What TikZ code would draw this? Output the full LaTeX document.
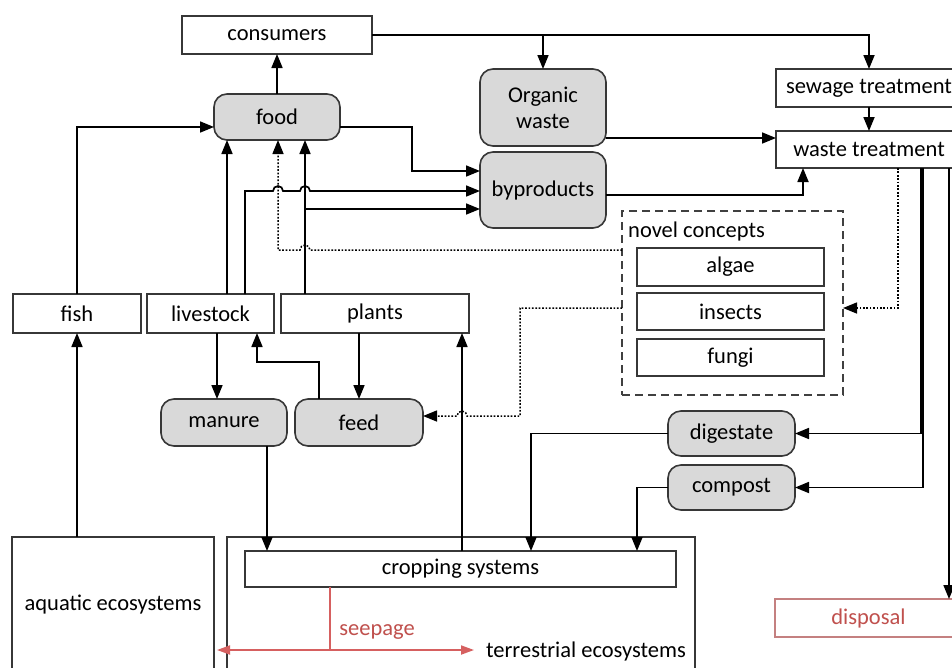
\documentclass[tikz,border=0pt]{standalone}
\usepackage{fontspec}
\setmainfont{Carlito}
\usetikzlibrary{arrows.meta,calc}
\definecolor{gfill}{RGB}{217,217,217}
\definecolor{bord}{RGB}{55,55,55}
\definecolor{redtxt}{RGB}{192,80,77}
\definecolor{redline}{RGB}{214,96,96}
\definecolor{redbord}{RGB}{196,128,128}
\begin{document}
\begin{tikzpicture}[x=1pt,y=-1pt,
  box/.style={draw=bord,line width=1.6pt,fill=white,inner sep=0pt,outer sep=0pt,
    font=\fontsize{22.5}{25}\selectfont,text=black},
  gbox/.style={box,fill=gfill,rounded corners=13pt},
  conn/.style={draw=black,line width=1.7pt,-{Triangle[length=14pt,width=11pt]}},
  dotconn/.style={conn,line width=1.5pt,dash pattern=on 1.7pt off 1.7pt},
  lbl/.style={inner sep=0pt,font=\fontsize{22.5}{25}\selectfont,text=black}]
\clip (0,0) rectangle (952,667);
\fill[white] (0,0) rectangle (952,667);

% helper coordinates
\coordinate (y127) at (0,127);
\coordinate (y138) at (0,138);
\coordinate (y171) at (0,171);
\coordinate (y191) at (0,191);
\coordinate (y195) at (0,195);
\coordinate (y209) at (0,209);
\coordinate (y250) at (0,250);
\coordinate (y308) at (0,308);
\coordinate (y362) at (0,362);
\coordinate (y416) at (0,416);
\coordinate (y650) at (0,650);
\coordinate (x217) at (217,0);
\coordinate (x227) at (227,0);
\coordinate (x245) at (245,0);
\coordinate (x257) at (257,0);
\coordinate (x267) at (267,0);
\coordinate (x278) at (278,0);
\coordinate (x305) at (305,0);
\coordinate (x319) at (319,0);
\coordinate (x330) at (330,0);
\coordinate (x462) at (462,0);
\coordinate (x531) at (531,0);
\coordinate (x637) at (637,0);
\coordinate (x803) at (803,0);
\coordinate (x898) at (898,0);
\coordinate (x921) at (921,0);
\coordinate (x923) at (923,0);
\coordinate (x949) at (949,0);

% large ecosystem boxes
\node[box,minimum width=202pt,minimum height=170pt,anchor=north west] (aquatic) at (12,537) {};
\node[lbl] at (113,605) {aquatic ecosystems};
\node[box,minimum width=468pt,minimum height=170pt,anchor=north west] (terr) at (227,537) {};

% nodes
\node[box,minimum width=190pt,minimum height=38pt] (consumers) at (277,35) {consumers};
\node[gbox,minimum width=126pt,minimum height=46pt] (food) at (277,117) {food};
\node[gbox,minimum width=126pt,minimum height=77pt,align=center] (organic) at (543,107.5) {Organic\\[1pt]waste};
\node[gbox,minimum width=126pt,minimum height=76pt] (byp) at (543,190) {byproducts};
\node[box,minimum width=186pt,minimum height=38pt] (sewage) at (869,88) {sewage treatment};
\node[box,minimum width=186pt,minimum height=37pt] (waste) at (869,149.5) {waste treatment};
\node[box,minimum width=128pt,minimum height=39pt] (fish) at (77,313.5) {fish};
\node[box,minimum width=127pt,minimum height=39pt] (livestock) at (210.5,313.5) {livestock};
\node[box,minimum width=188pt,minimum height=39pt] (plants) at (375,313.5) {plants};
\node[box,draw=black!75,dash pattern=on 8pt off 5pt,line width=1.5pt,fill=none,
  minimum width=221pt,minimum height=184pt] (novel) at (732.5,303) {};
\node[lbl,anchor=west] (novellbl) at (628,231) {novel concepts};
\node[box,minimum width=187pt,minimum height=38pt] (algae) at (730.5,267) {algae};
\node[box,minimum width=187pt,minimum height=37pt] (insects) at (730.5,311.5) {insects};
\node[box,minimum width=187pt,minimum height=37pt] (fungi) at (730.5,357.5) {fungi};
\node[gbox,minimum width=126pt,minimum height=47pt] (manure) at (224,422.5) {manure};
\node[gbox,minimum width=128pt,minimum height=47pt] (feed) at (359,422.5) {feed};
\node[gbox,minimum width=127pt,minimum height=45pt] (digestate) at (731.5,433.5) {digestate};
\node[gbox,minimum width=127pt,minimum height=45pt] (compost) at (731.5,487.5) {compost};
\node[box,minimum width=431pt,minimum height=36pt] (crop) at (460.5,569) {cropping systems};
\node[box,draw=redbord,line width=1.2pt,text=redtxt,minimum width=187pt,minimum height=38pt] (disposal) at (868.5,618) {disposal};
\node[lbl,text=redtxt] (seepage) at (377,632) {seepage};
\node[lbl] (terrlbl) at (586,651) {terrestrial ecosystems};

% connectors
\draw[conn] (food.north) -- (consumers.south);
\draw[conn] (consumers.east) -| (sewage.north);
\draw[conn] (organic.north |- consumers.east) -- (organic.north);
\draw[conn] (sewage.south) -- (waste.north);
\draw[conn] (organic.east |- y138) -- (waste.west |- y138);
\draw[conn] (byp.east |- y195) -- (x803 |- y195) -- (waste.south -| x803);
\draw[conn] (food.east |- y127) -- (412,127) -- (412,171) -- (byp.west |- y171);
\draw[conn] (fish.north) -- (fish.north |- y127) -- (food.west |- y127);
\draw[conn] (livestock.north -| x227) -- (food.south -| x227);
\draw[conn] (livestock.north -| x245) -- (245,191) -- (273,191) arc[start angle=180,end angle=360,radius=5]
   -- (300,191) arc[start angle=180,end angle=360,radius=5] -- (byp.west |- y191);
\draw[conn] (plants.north -| x305) -- (food.south -| x305);
\draw[conn] (305,209) -- (byp.west |- y209);
\draw[dotconn] (novel.west |- y250) -- (310,250) arc[start angle=0,end angle=-180,radius=5]
   -- (278,250) -- (food.south -| x278);
\draw[dotconn] (waste.south -| x898) -- (898,308) -- (novel.east |- y308);
\draw[dotconn] (novel.west |- y308) -- (520,308) -- (520,416) -- (467,416)
   arc[start angle=0,end angle=-180,radius=5] -- (feed.east |- y416);
\draw[conn] (livestock.south -| x217) -- (manure.north -| x217);
\draw[conn] (plants.south -| feed.north) -- (feed.north);
\draw[conn] (feed.north -| x319) -- (319,362) -- (257,362) -- (livestock.south -| x257);
\draw[conn] (manure.south -| x267) -- (crop.north -| x267);
\draw[conn] (crop.north -| x462) -- (plants.south -| x462);
\draw[conn] (aquatic.north -| fish.south) -- (fish.south);
\draw[conn] (digestate.west) -- (digestate.west -| x531) -- (crop.north -| x531);
\draw[conn] (compost.west) -- (compost.west -| x637) -- (crop.north -| x637);
\draw[conn] (waste.south -| x921) -- (x921 |- digestate.east) -- (digestate.east);
\draw[conn] (waste.south -| x923) -- (x923 |- compost.east) -- (compost.east);
\draw[conn] (waste.south -| x949) -- (disposal.north -| x949);
\draw[draw=redline,line width=1.3pt] (crop.south -| x330) -- (x330 |- y650);
\draw[draw=redline,line width=1.8pt,{Triangle[length=13pt,width=9pt]}-{Triangle[length=13pt,width=9pt]}]
   ($(aquatic.east |- y650)+(3,0)$) -- (474,650);
\end{tikzpicture}
\end{document}
